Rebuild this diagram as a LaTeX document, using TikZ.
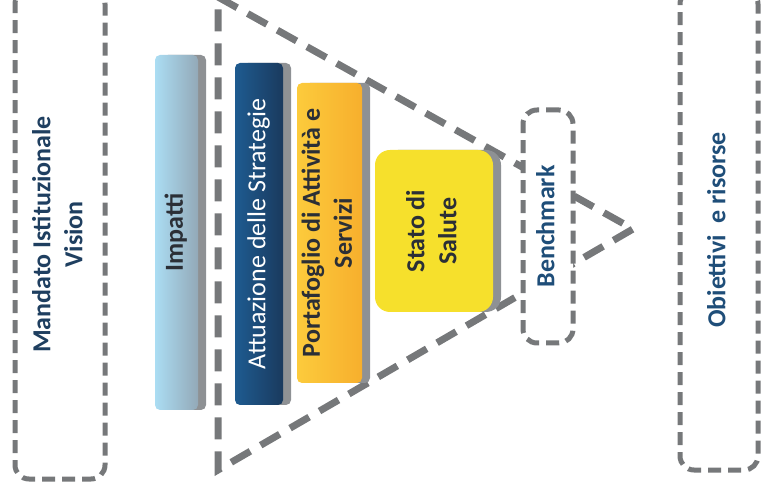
\documentclass[tikz,border=0pt]{standalone}
\usepackage{fontspec}
\setmainfont{Carlito}
\usetikzlibrary{shadows}
\definecolor{dashgray}{HTML}{76787A}
\definecolor{shadowgray}{HTML}{8E9194}
\definecolor{navytext}{HTML}{1F3F60}
\definecolor{bluetext}{HTML}{1F4E79}
\definecolor{darktext}{HTML}{2B2F36}
\definecolor{impleft}{HTML}{ABDDF3}
\definecolor{impright}{HTML}{93A9B8}
\definecolor{attleft}{HTML}{1E5B90}
\definecolor{attright}{HTML}{1A3A5E}
\definecolor{portleft}{HTML}{FCCB3C}
\definecolor{portright}{HTML}{F7AF2D}
\definecolor{statofill}{HTML}{F6E02C}
\newcommand{\vtext}[1]{\rotatebox{90}{\begin{tabular}{@{}c@{}}#1\end{tabular}}}

\begin{document}
\begin{tikzpicture}
[x=1pt,y=-1pt,every node/.style={inner sep=0pt,font=\fontsize{26}{32}\selectfont\bfseries}]
\tikzset{frame/.style = {draw=dashgray,line width=5pt,dash pattern=on 13pt off 7pt,rounded corners=14pt}}
\tikzset{bar/.style = {rounded corners=5pt,drop shadow={shadow xshift=8pt,shadow yshift=0pt,fill=shadowgray,opacity=1}}}
\useasboundingbox (0,0) rectangle (761,494);
  \coordinate (top) at (218,-3);
  \coordinate (tip) at (633,229);
  \coordinate (bot) at (218,470);
  \draw[draw=dashgray,line width=7pt,dash pattern=on 22pt off 12pt] (top) -- (tip) -- (bot) -- cycle;
  \node[frame,minimum width=90pt,minimum height=489pt,text=navytext] (mand) at (60,234.5){\vtext{Mandato Istituzionale\\Vision}};
  \node[bar,left color=impleft,right color=impright,minimum width=43pt,minimum height=355pt,text=darktext] (imp) at (176.5,232.5){\vtext{Impatti}};
  \node[bar,left color=attleft,right color=attright,minimum width=48pt,minimum height=342pt,text=white] (att) at (259,234){\vtext{\mdseries Attuazione delle Strategie}};
  \node[bar,left color=portleft,right color=portright,minimum width=65pt,minimum height=300pt,text=darktext] (port) at (329.5,233){\vtext{Portafoglio di Attività e\\Servizi}};
  \node[bar,rounded corners=15pt,fill=statofill,minimum width=118pt,minimum height=162pt,text=darktext] (stato) at (434,231){\vtext{Stato di\\Salute}};
  \node[frame,fill=white,minimum width=50pt,minimum height=233pt,text=bluetext] (bench) at (548,226.5){\vtext{Benchmark}};
  \node[frame,minimum width=78pt,minimum height=480pt,text=bluetext] (obj) at (719,230){\vtext{Obiettivi\ \ e risorse}};
\end{tikzpicture}
\end{document}
